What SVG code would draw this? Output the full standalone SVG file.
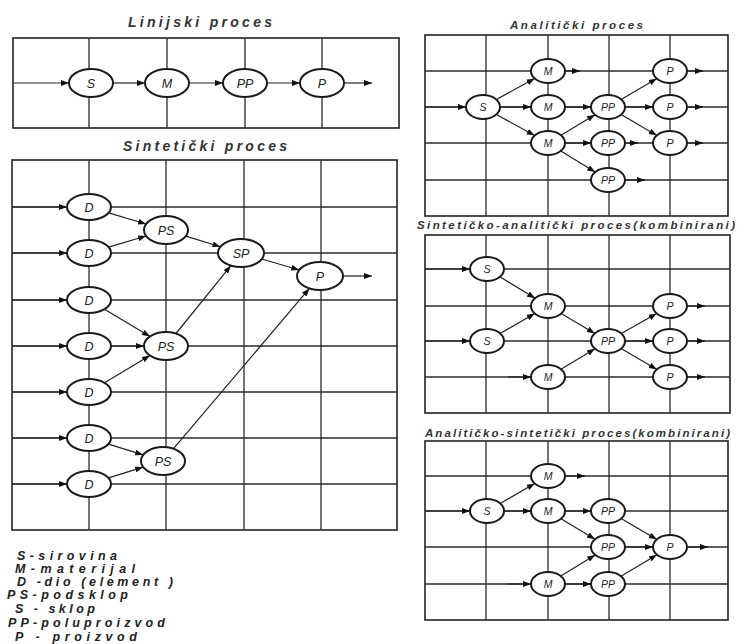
<svg xmlns="http://www.w3.org/2000/svg" width="737" height="644" viewBox="0 0 737 644">
<style>
.grid{stroke:#2b2b2b;stroke-width:1.3;fill:none}
.box{stroke:#222;stroke-width:1.6;fill:none}
.n ellipse{fill:#fff;stroke:#1a1a1a;stroke-width:2}
.n text{font-family:"Liberation Sans",Arial,sans-serif;font-style:italic;font-size:12.5px;text-anchor:middle;fill:#222}
.s text{font-size:10.5px}
.c line{stroke:#222;stroke-width:1.2;marker-end:url(#ah)}
.title{font-family:"Liberation Sans",Arial,sans-serif;font-style:italic;font-weight:bold;fill:#333}
.leg{font-family:"Liberation Sans",Arial,sans-serif;font-style:italic;font-weight:bold;font-size:12.5px;fill:#222}
</style>
<defs>
<marker id="ah" markerUnits="userSpaceOnUse" markerWidth="8" markerHeight="6" refX="8" refY="3" orient="auto">
<path d="M0,0 L8,3 L0,6 z" fill="#111"/>
</marker>
</defs>
<rect width="737" height="644" fill="#fff"/>

<!-- Titles -->
<text class="title" x="128" y="27" font-size="14" textLength="144" lengthAdjust="spacing">Linijski proces</text>
<text class="title" x="123" y="151" font-size="14" textLength="164" lengthAdjust="spacing">Sintetički proces</text>
<text class="title" x="510" y="29" font-size="11.5" textLength="133" lengthAdjust="spacing">Analitički proces</text>
<text class="title" x="417" y="229" font-size="11.5" textLength="318" lengthAdjust="spacing">Sintetičko-analitički proces(kombinirani)</text>
<text class="title" x="425" y="437" font-size="11.5" textLength="305" lengthAdjust="spacing">Analitičko-sintetički proces(kombinirani)</text>

<!-- Grids -->
<g id="grid-linijski">
<rect class="box" x="13" y="38" width="386" height="90"/>
<path class="grid" d="M89,38V128M167,38V128M245,38V128M322,38V128"/>
</g>
<g id="grid-sinteticki">
<rect class="box" x="12" y="160" width="385" height="370"/>
<path class="grid" d="M89,160V530M166,160V530M244,160V530M321,160V530M12,207H397M12,253H397M12,300H397M12,346H397M12,392H397M12,438H397M12,484H397"/>
</g>
<g id="grid-analiticki">
<rect class="box" x="425" y="35" width="303" height="181"/>
<path class="grid" d="M486,35V216M548,35V216M609,35V216M670,35V216M425,71H728M425,107H728M425,143H728M425,180H728"/>
</g>
<g id="grid-sint-anal">
<rect class="box" x="425" y="235" width="305" height="178"/>
<path class="grid" d="M486,235V413M548,235V413M609,235V413M670,235V413M425,269H730M425,306H730M425,341H730M425,377H730"/>
</g>
<g id="grid-anal-sint">
<rect class="box" x="425" y="441" width="303" height="179"/>
<path class="grid" d="M486,441V620M548,441V620M609,441V620M670,441V620M425,476H728M425,511H728M425,547H728M425,584H728"/>
</g>

<!-- Connectors -->
<g id="connectors" class="c">
<line x1="13" y1="83" x2="69" y2="83"/>
<line x1="113" y1="83" x2="145" y2="83"/>
<line x1="189" y1="83" x2="223" y2="83"/>
<line x1="267" y1="83" x2="300" y2="83"/>
<line x1="344" y1="83" x2="372" y2="83"/>
<line x1="12" y1="207" x2="67" y2="207"/>
<line x1="12" y1="253" x2="67" y2="253"/>
<line x1="12" y1="300" x2="67" y2="300"/>
<line x1="12" y1="346" x2="67" y2="346"/>
<line x1="12" y1="392" x2="67" y2="392"/>
<line x1="12" y1="438" x2="67" y2="438"/>
<line x1="12" y1="484" x2="67" y2="484"/>
<line x1="108.6" y1="212.9" x2="146.1" y2="224"/>
<line x1="108.6" y1="247.1" x2="146.1" y2="236"/>
<line x1="185.8" y1="236.1" x2="220.5" y2="246.7"/>
<line x1="261.7" y1="259" x2="299.3" y2="270"/>
<line x1="104.5" y1="309.2" x2="150" y2="336.4"/>
<line x1="111" y1="346" x2="144" y2="346"/>
<line x1="104.5" y1="382.8" x2="150" y2="355.6"/>
<line x1="176" y1="333.5" x2="230.9" y2="265.6"/>
<line x1="108.5" y1="444.1" x2="143.2" y2="454.9"/>
<line x1="108.5" y1="477.9" x2="143.2" y2="467.1"/>
<line x1="173.5" y1="448.7" x2="309.4" y2="288.4"/>
<line x1="343" y1="276" x2="372" y2="276"/>
<line x1="425" y1="107" x2="466" y2="107"/>
<line x1="496.4" y1="99.6" x2="534.6" y2="78.4"/>
<line x1="500" y1="107" x2="531" y2="107"/>
<line x1="496.4" y1="114.4" x2="534.6" y2="135.6"/>
<line x1="565" y1="71" x2="580" y2="71"/>
<line x1="565" y1="107" x2="591" y2="107"/>
<line x1="561" y1="135.2" x2="595" y2="114.8"/>
<line x1="565" y1="143" x2="591" y2="143"/>
<line x1="560.8" y1="150.9" x2="595.2" y2="172.1"/>
<line x1="621.1" y1="99.4" x2="656.9" y2="78.6"/>
<line x1="625" y1="107" x2="653" y2="107"/>
<line x1="621.1" y1="114.6" x2="656.9" y2="135.4"/>
<line x1="625" y1="143" x2="638" y2="143"/>
<line x1="687" y1="71" x2="703" y2="71"/>
<line x1="687" y1="107" x2="703" y2="107"/>
<line x1="687" y1="143" x2="703" y2="143"/>
<line x1="625" y1="180" x2="645" y2="180"/>
<line x1="425" y1="269" x2="470" y2="269"/>
<line x1="425" y1="341" x2="470" y2="341"/>
<line x1="499.9" y1="276.8" x2="535.1" y2="298.2"/>
<line x1="500.2" y1="333.4" x2="534.8" y2="313.6"/>
<line x1="508" y1="377" x2="531" y2="377"/>
<line x1="561.1" y1="313.6" x2="594.9" y2="333.4"/>
<line x1="561" y1="369.2" x2="595" y2="348.8"/>
<line x1="621.3" y1="333.5" x2="656.7" y2="313.5"/>
<line x1="625" y1="341" x2="653" y2="341"/>
<line x1="621.1" y1="348.6" x2="656.9" y2="369.4"/>
<line x1="687" y1="306" x2="705" y2="306"/>
<line x1="687" y1="341" x2="705" y2="341"/>
<line x1="687" y1="377" x2="705" y2="377"/>
<line x1="425" y1="511" x2="470" y2="511"/>
<line x1="500.2" y1="503.4" x2="534.8" y2="483.6"/>
<line x1="504" y1="511" x2="531" y2="511"/>
<line x1="565" y1="476" x2="585" y2="476"/>
<line x1="565" y1="511" x2="591" y2="511"/>
<line x1="561" y1="518.8" x2="595" y2="539.2"/>
<line x1="508" y1="584" x2="531" y2="584"/>
<line x1="560.8" y1="576.1" x2="595.2" y2="554.9"/>
<line x1="565" y1="584" x2="591" y2="584"/>
<line x1="621.1" y1="518.6" x2="656.9" y2="539.4"/>
<line x1="625" y1="547" x2="653" y2="547"/>
<line x1="621" y1="576.3" x2="657" y2="554.7"/>
<line x1="687" y1="547" x2="708" y2="547"/>
</g>

<!-- Linijski nodes -->
<g id="lin-S" class="n"><ellipse cx="91" cy="83" rx="22" ry="14"/><text x="91" y="87.5">S</text></g>
<g id="lin-M" class="n"><ellipse cx="167" cy="83" rx="22" ry="14"/><text x="167" y="87.5">M</text></g>
<g id="lin-PP" class="n"><ellipse cx="245" cy="83" rx="22" ry="14"/><text x="245" y="87.5">PP</text></g>
<g id="lin-P" class="n"><ellipse cx="322" cy="83" rx="22" ry="14"/><text x="322" y="87.5">P</text></g>

<!-- Sinteticki nodes -->
<g id="sin-D1" class="n"><ellipse cx="89" cy="207" rx="22" ry="13"/><text x="89" y="211.5">D</text></g>
<g id="sin-D2" class="n"><ellipse cx="89" cy="253" rx="22" ry="13"/><text x="89" y="257.5">D</text></g>
<g id="sin-D3" class="n"><ellipse cx="89" cy="300" rx="22" ry="13"/><text x="89" y="304.5">D</text></g>
<g id="sin-D4" class="n"><ellipse cx="89" cy="346" rx="22" ry="13"/><text x="89" y="350.5">D</text></g>
<g id="sin-D5" class="n"><ellipse cx="89" cy="392" rx="22" ry="13"/><text x="89" y="396.5">D</text></g>
<g id="sin-D6" class="n"><ellipse cx="89" cy="438" rx="22" ry="13"/><text x="89" y="442.5">D</text></g>
<g id="sin-D7" class="n"><ellipse cx="89" cy="484" rx="22" ry="13"/><text x="89" y="488.5">D</text></g>
<g id="sin-PS1" class="n"><ellipse cx="166" cy="230" rx="22" ry="14"/><text x="166" y="234.5">PS</text></g>
<g id="sin-PS2" class="n"><ellipse cx="166" cy="346" rx="22" ry="14"/><text x="166" y="350.5">PS</text></g>
<g id="sin-PS3" class="n"><ellipse cx="163" cy="461" rx="22" ry="14"/><text x="163" y="465.5">PS</text></g>
<g id="sin-SP" class="n"><ellipse cx="241" cy="253" rx="23" ry="14"/><text x="241" y="257.5">SP</text></g>
<g id="sin-P" class="n"><ellipse cx="320" cy="276" rx="23" ry="14"/><text x="320" y="280.5">P</text></g>

<!-- Analiticki nodes -->
<g id="an-S" class="n s"><ellipse cx="483" cy="107" rx="17" ry="12"/><text x="483" y="111">S</text></g>
<g id="an-M1" class="n s"><ellipse cx="548" cy="71" rx="17" ry="12"/><text x="548" y="75">M</text></g>
<g id="an-M2" class="n s"><ellipse cx="548" cy="107" rx="17" ry="12"/><text x="548" y="111">M</text></g>
<g id="an-M3" class="n s"><ellipse cx="548" cy="143" rx="17" ry="12"/><text x="548" y="147">M</text></g>
<g id="an-PP1" class="n s"><ellipse cx="608" cy="107" rx="17" ry="12"/><text x="608" y="111">PP</text></g>
<g id="an-PP2" class="n s"><ellipse cx="608" cy="143" rx="17" ry="12"/><text x="608" y="147">PP</text></g>
<g id="an-PP3" class="n s"><ellipse cx="608" cy="180" rx="17" ry="12"/><text x="608" y="184">PP</text></g>
<g id="an-P1" class="n s"><ellipse cx="670" cy="71" rx="17" ry="12"/><text x="670" y="75">P</text></g>
<g id="an-P2" class="n s"><ellipse cx="670" cy="107" rx="17" ry="12"/><text x="670" y="111">P</text></g>
<g id="an-P3" class="n s"><ellipse cx="670" cy="143" rx="17" ry="12"/><text x="670" y="147">P</text></g>

<!-- Sinteticko-analiticki nodes -->
<g id="sa-S1" class="n s"><ellipse cx="487" cy="269" rx="17" ry="12"/><text x="487" y="273">S</text></g>
<g id="sa-S2" class="n s"><ellipse cx="487" cy="341" rx="17" ry="12"/><text x="487" y="345">S</text></g>
<g id="sa-M1" class="n s"><ellipse cx="548" cy="306" rx="17" ry="12"/><text x="548" y="310">M</text></g>
<g id="sa-M2" class="n s"><ellipse cx="548" cy="377" rx="17" ry="12"/><text x="548" y="381">M</text></g>
<g id="sa-PP" class="n s"><ellipse cx="608" cy="341" rx="17" ry="12"/><text x="608" y="345">PP</text></g>
<g id="sa-P1" class="n s"><ellipse cx="670" cy="306" rx="17" ry="12"/><text x="670" y="310">P</text></g>
<g id="sa-P2" class="n s"><ellipse cx="670" cy="341" rx="17" ry="12"/><text x="670" y="345">P</text></g>
<g id="sa-P3" class="n s"><ellipse cx="670" cy="377" rx="17" ry="12"/><text x="670" y="381">P</text></g>

<!-- Analiticko-sinteticki nodes -->
<g id="as-S" class="n s"><ellipse cx="487" cy="511" rx="17" ry="12"/><text x="487" y="515">S</text></g>
<g id="as-M1" class="n s"><ellipse cx="548" cy="476" rx="17" ry="12"/><text x="548" y="480">M</text></g>
<g id="as-M2" class="n s"><ellipse cx="548" cy="511" rx="17" ry="12"/><text x="548" y="515">M</text></g>
<g id="as-M3" class="n s"><ellipse cx="548" cy="584" rx="17" ry="12"/><text x="548" y="588">M</text></g>
<g id="as-PP1" class="n s"><ellipse cx="608" cy="511" rx="17" ry="12"/><text x="608" y="515">PP</text></g>
<g id="as-PP2" class="n s"><ellipse cx="608" cy="547" rx="17" ry="12"/><text x="608" y="551">PP</text></g>
<g id="as-PP3" class="n s"><ellipse cx="608" cy="584" rx="17" ry="12"/><text x="608" y="588">PP</text></g>
<g id="as-P" class="n s"><ellipse cx="670" cy="547" rx="17" ry="12"/><text x="670" y="551">P</text></g>

<!-- Legend -->
<g id="legend">
<text class="leg" x="17" y="560" textLength="100" lengthAdjust="spacing">S-sirovina</text>
<text class="leg" x="15" y="573" textLength="120" lengthAdjust="spacing">M-materijal</text>
<text class="leg" x="17" y="586" textLength="156" lengthAdjust="spacing">D -dio (element )</text>
<text class="leg" x="7" y="599" textLength="121" lengthAdjust="spacing">PS-podsklop</text>
<text class="leg" x="15" y="613" textLength="80" lengthAdjust="spacing">S - sklop</text>
<text class="leg" x="8" y="627" textLength="157" lengthAdjust="spacing">PP-poluproizvod</text>
<text class="leg" x="15" y="641" textLength="122" lengthAdjust="spacing">P - proizvod</text>
</g>
</svg>
